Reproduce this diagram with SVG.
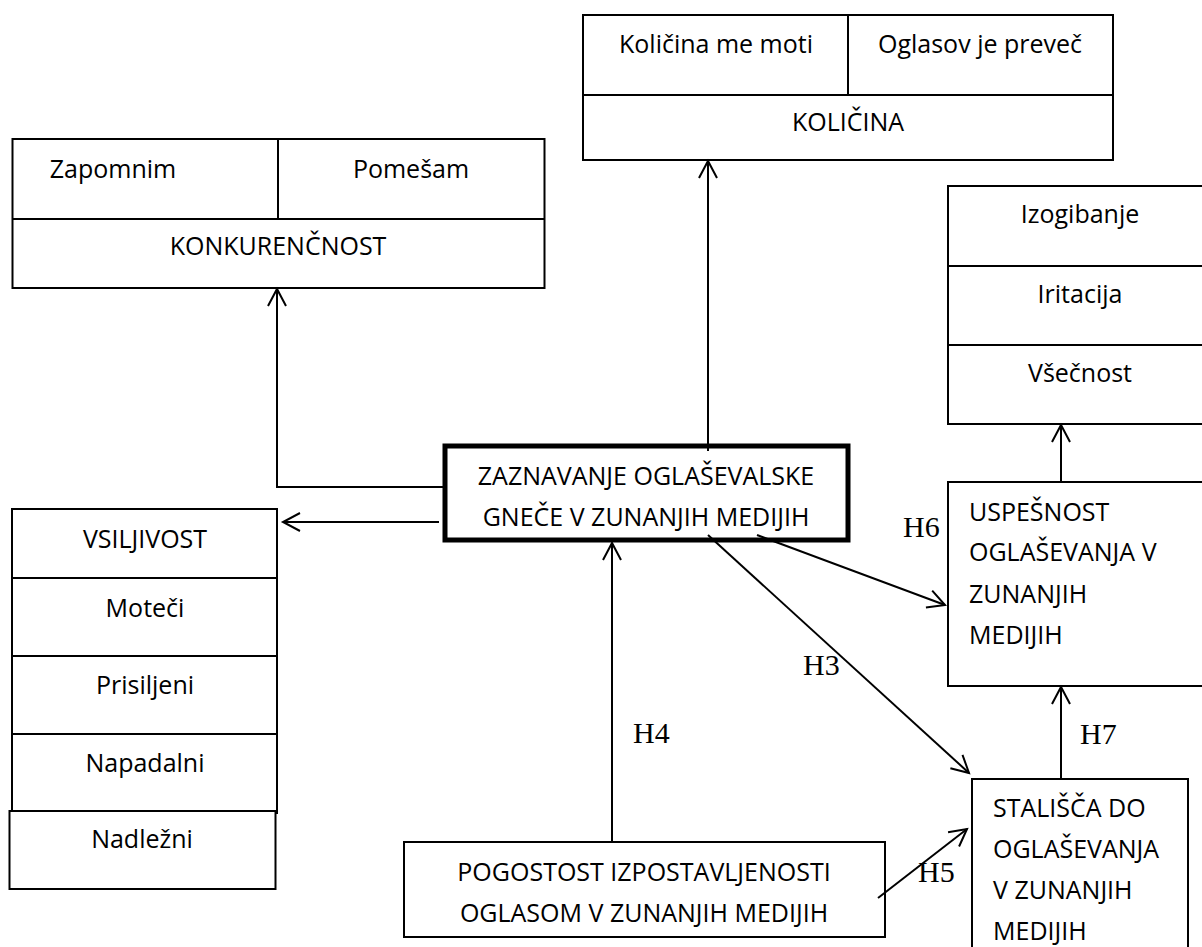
<svg xmlns="http://www.w3.org/2000/svg" width="1202" height="947" viewBox="0 0 1202 947">
<style>
.box{fill:#fff;stroke:#000;stroke-width:2}
.div{stroke:#000;stroke-width:2;fill:none}
.t{font-family:"Open Sans","Liberation Sans",sans-serif;font-size:25px;fill:#000}
.c{text-anchor:middle}
.h{font-family:"Liberation Serif","Times New Roman",serif;font-size:30px;fill:#000}
.con{stroke:#000;stroke-width:2;fill:none;marker-end:url(#arr)}
.ln{stroke:#000;stroke-width:2;fill:none}
</style>
<defs>
<marker id="arr" markerUnits="userSpaceOnUse" markerWidth="40" markerHeight="40" viewBox="-20 -20 40 40" refX="0" refY="0" orient="auto" overflow="visible">
<path d="M-17,-9 L0,0 L-17,9" fill="none" stroke="#000" stroke-width="2"/>
</marker>
</defs>
<rect width="1202" height="947" fill="#fff"/>

<g id="kolicina">
<rect class="box" x="583" y="15" width="530" height="145"/>
<line class="div" x1="583" y1="95" x2="1113" y2="95"/>
<line class="div" x1="848" y1="15" x2="848" y2="95"/>
<text class="t c" x="716" y="53">Količina me moti</text>
<text class="t c" x="980" y="53">Oglasov je preveč</text>
<text class="t c" x="848" y="131">KOLIČINA</text>
</g>

<g id="konkurencnost">
<rect class="box" x="12.5" y="139" width="532" height="149"/>
<line class="div" x1="12.5" y1="219" x2="544.5" y2="219"/>
<line class="div" x1="278" y1="139" x2="278" y2="219"/>
<text class="t c" x="113" y="178">Zapomnim</text>
<text class="t c" x="411" y="178">Pomešam</text>
<text class="t c" x="278" y="255">KONKURENČNOST</text>
</g>

<g id="odziv">
<rect class="box" x="948" y="186" width="264" height="238"/>
<line class="div" x1="948" y1="266" x2="1212" y2="266"/>
<line class="div" x1="948" y1="345" x2="1212" y2="345"/>
<text class="t c" x="1080" y="223">Izogibanje</text>
<text class="t c" x="1080" y="303">Iritacija</text>
<text class="t c" x="1080" y="382">Všečnost</text>
</g>

<g id="vsiljivost">
<rect class="box" x="12" y="509" width="265" height="304"/>
<line class="div" x1="12" y1="578" x2="277" y2="578"/>
<line class="div" x1="12" y1="656" x2="277" y2="656"/>
<line class="div" x1="12" y1="734" x2="277" y2="734"/>
<text class="t c" x="145" y="548">VSILJIVOST</text>
<text class="t c" x="145" y="617">Moteči</text>
<text class="t c" x="145" y="694">Prisiljeni</text>
<text class="t c" x="145" y="772">Napadalni</text>
</g>

<g id="nadlezni">
<rect class="box" x="9.5" y="811" width="266" height="78"/>
<text class="t c" x="142" y="848">Nadležni</text>
</g>

<g id="zaznavanje">
<rect x="445" y="446" width="403" height="94" fill="#fff" stroke="#000" stroke-width="5"/>
<text class="t c" x="646" y="485">ZAZNAVANJE OGLAŠEVALSKE</text>
<text class="t c" x="646" y="526">GNEČE V ZUNANJIH MEDIJIH</text>
</g>

<g id="uspesnost">
<rect class="box" x="948" y="482" width="264" height="204"/>
<text class="t" x="969" y="521">USPEŠNOST</text>
<text class="t" x="969" y="561">OGLAŠEVANJA V</text>
<text class="t" x="969" y="603">ZUNANJIH</text>
<text class="t" x="969" y="644">MEDIJIH</text>
</g>

<g id="stalisca">
<rect class="box" x="972" y="779" width="216" height="200"/>
<text class="t" x="993" y="817">STALIŠČA DO</text>
<text class="t" x="993" y="858">OGLAŠEVANJA</text>
<text class="t" x="993" y="899">V ZUNANJIH</text>
<text class="t" x="993" y="940">MEDIJIH</text>
</g>

<g id="pogostost">
<rect class="box" x="404" y="842" width="481" height="95"/>
<text class="t c" x="644" y="881">POGOSTOST IZPOSTAVLJENOSTI</text>
<text class="t c" x="644" y="922">OGLASOM V ZUNANJIH MEDIJIH</text>
</g>

<g id="connectors">
<path class="con" d="M708,451 V161"/>
<path class="con" d="M443,487 H277 V289"/>
<path class="con" d="M439,522 H283"/>
<path class="con" d="M612,842 V543"/>
<path class="con" d="M708,535 L969,773"/>
<path class="con" d="M757,535 L945,605"/>
<path class="con" d="M878,898 L967,829"/>
<path class="con" d="M1061,779 V687"/>
<path class="con" d="M1061,482 V425"/>
</g>

<g id="labels">
<text class="h" x="903" y="537">H6</text>
<text class="h" x="803" y="675">H3</text>
<text class="h" x="633" y="743">H4</text>
<text class="h" x="1080" y="744">H7</text>
<text class="h" x="918" y="882">H5</text>
</g>
</svg>
